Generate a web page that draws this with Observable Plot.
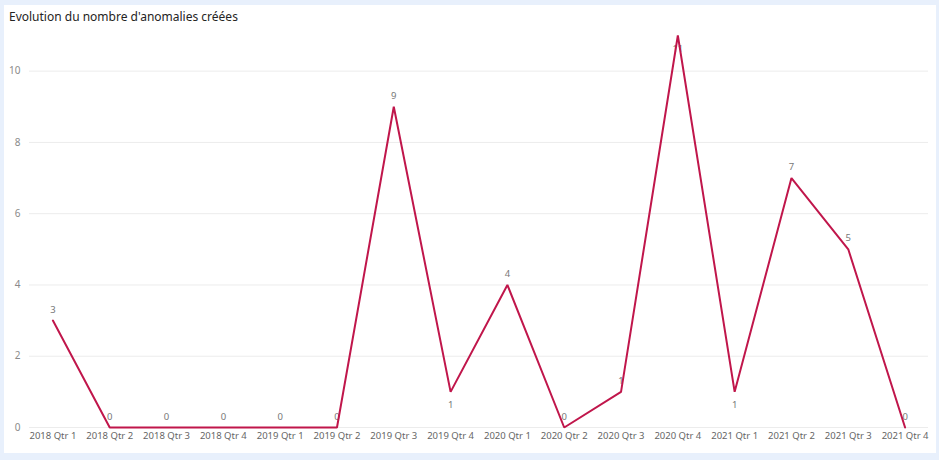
<!DOCTYPE html>
<html>
<head>
<meta charset="utf-8">
<script src="https://cdn.jsdelivr.net/npm/d3@7"></script>
<script src="https://cdn.jsdelivr.net/npm/@observablehq/plot@0.6"></script>
<style>
  html, body { margin: 0; padding: 0; background: #e8f0fc; width: 939px; height: 460px; overflow: hidden; }
  #card { position: absolute; left: 4px; top: 5px; width: 932px; height: 448px; background: #ffffff; }
  #title { position: absolute; left: 9px; top: 8px; font-family: "Segoe UI", "Noto Sans", sans-serif; font-size: 12px; color: #252423; white-space: nowrap; }
  #chart { position: absolute; left: 0; top: 0; }
</style>
</head>
<body>
<div id="card"></div>
<div id="title">Evolution du nombre d'anomalies créées</div>
<div id="chart"></div>
<script>
const quarters = ["2018 Qtr 1","2018 Qtr 2","2018 Qtr 3","2018 Qtr 4","2019 Qtr 1","2019 Qtr 2","2019 Qtr 3","2019 Qtr 4","2020 Qtr 1","2020 Qtr 2","2020 Qtr 3","2020 Qtr 4","2021 Qtr 1","2021 Qtr 2","2021 Qtr 3","2021 Qtr 4"];
const counts = [3, 0, 0, 0, 0, 0, 9, 1, 4, 0, 1, 11, 1, 7, 5, 0];
const yTicks = [0, 2, 4, 6, 8, 10];
const yMax = 11;

const data = quarters.map((q, i) => ({q, v: counts[i], i}));
// labels go below a point when it is a local valley (above zero) or at the top of the axis
const isBelow = d => {
  const prev = counts[d.i - 1], next = counts[d.i + 1];
  const valley = d.v > 0 && prev !== undefined && next !== undefined && d.v < prev && d.v < next;
  return valley || d.v >= yMax;
};
const above = data.filter(d => !isBelow(d));
const below = data.filter(d => isBelow(d));

const chart = Plot.plot({
  width: 939,
  height: 460,
  marginLeft: 24,
  marginRight: 6,
  marginTop: 35,
  marginBottom: 33,
  style: {background: "transparent", fontFamily: "'Segoe UI', 'Noto Sans', sans-serif", fontSize: "10px", color: "#666"},
  x: {type: "point", domain: quarters, padding: 0.5, round: false, label: null, tickSize: 0, tickPadding: 5},
  y: {domain: [0, yMax], ticks: yTicks, label: null, tickSize: 0, tickPadding: 4},
  marks: [
    Plot.ruleY(yTicks, {stroke: "#ececec", strokeWidth: 1, insetLeft: 5, insetRight: 5}),
    Plot.axisY({ticks: yTicks, tickSize: 0, tickPadding: 4, label: null, fill: "#8a8a8a", fontSize: 10}),
    Plot.axisX({tickSize: 0, tickPadding: 5, label: null, fill: "#666", fontSize: 9.5}),
    Plot.text(above, {x: "q", y: "v", text: d => String(d.v), dy: -11, fill: "#777", fontSize: 9.5}),
    Plot.text(below, {x: "q", y: "v", text: d => String(d.v), dy: 13, fill: "#777", fontSize: 9.5}),
    Plot.line(data, {x: "q", y: "v", stroke: "#c0164b", strokeWidth: 2, strokeLinejoin: "miter"})
  ]
});
document.getElementById("chart").appendChild(chart);
</script>
</body>
</html>
